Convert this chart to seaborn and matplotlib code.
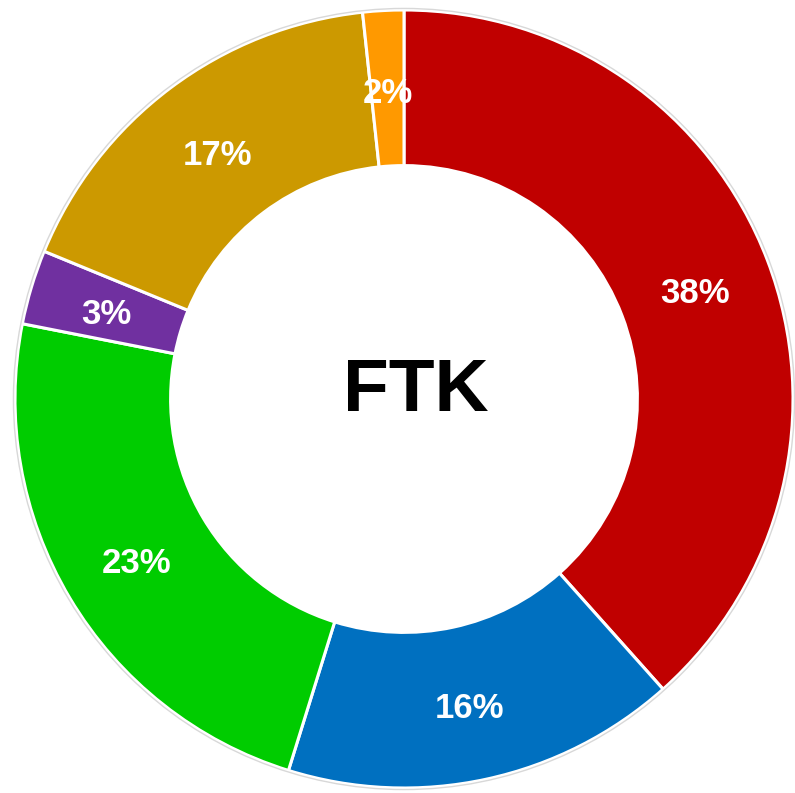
import numpy as np
import seaborn as sns
import matplotlib
matplotlib.use("Agg")
import matplotlib.pyplot as plt

# segment values, clockwise from 12 o'clock
segments = ['A', 'B', 'C', 'D', 'E', 'F']
shares = [38.4, 16.4, 23.3, 3.1, 17.1, 1.7]
colors = ['#C00000', '#0070C0', '#00CC00', '#7030A0', '#CC9900', '#FF9900']
center_label = 'FTK'

sns.set_theme(style='white')
plt.rcParams['font.family'] = ['Liberation Sans', 'DejaVu Sans']

fig = plt.figure(figsize=(7.95, 7.93), dpi=100)
ax = fig.add_axes([0, 0, 1, 1])

wedges, texts, autotexts = ax.pie(
    shares, colors=colors, startangle=90, counterclock=False,
    radius=1.0, autopct='%.0f%%', pctdistance=0.8,
    wedgeprops=dict(width=0.4, edgecolor='white', linewidth=2.2),
    textprops=dict(color='white', fontsize=25, fontweight='bold'))

# digits sit a little lower than matplotlib's 'center' puts them
for t in autotexts:
    x, y = t.get_position()
    t.set_position((x, y - 0.013))

# faint outline around the ring
ax.add_patch(plt.Circle((0, 0), 1.004, fill=False, edgecolor='#d8d8d8', linewidth=1.0))

ax.text(0.031, 0.02, center_label, ha='center', va='center', fontsize=54,
        fontweight='bold', color='black')

# ring centre at about (404, 399) px, outer radius about 389 px
ax.set_xlim(-404 / 389, 391 / 389)
ax.set_ylim(-394 / 389, 399 / 389)
ax.set_aspect('auto')
ax.axis('off')

fig.savefig('out.png', dpi=100, facecolor='white')
